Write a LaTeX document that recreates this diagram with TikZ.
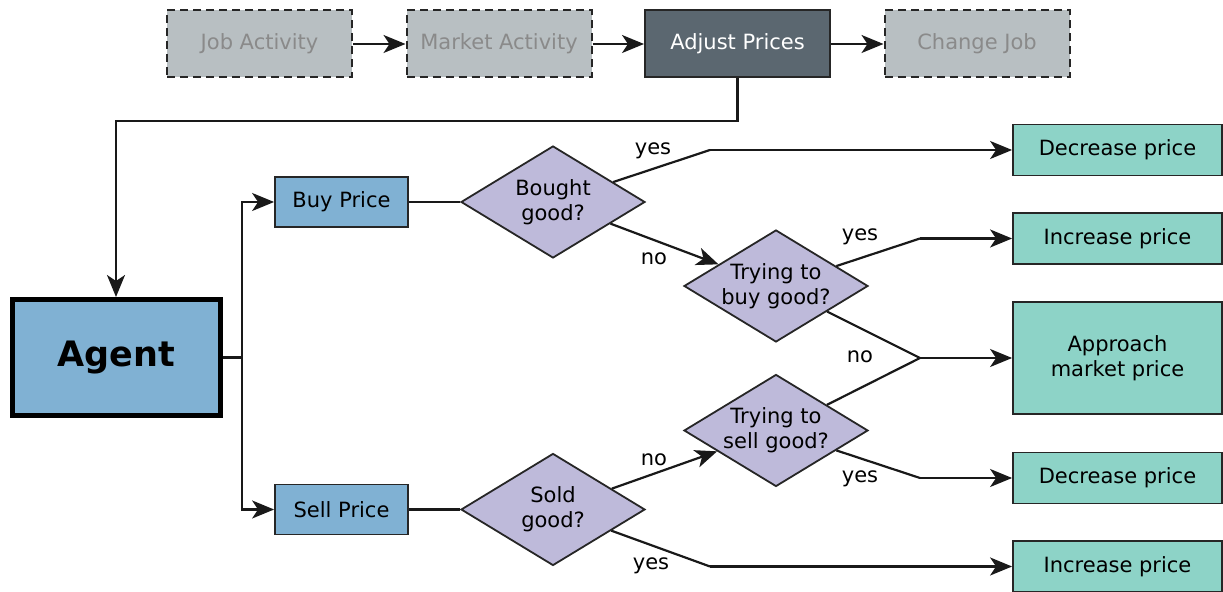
\documentclass[tikz,border=0pt]{standalone}
\usepackage{fontspec}
\setmainfont{DejaVu Sans}
\usetikzlibrary{shapes.geometric,arrows.meta}
\definecolor{grayfill}{HTML}{B8BFC2}
\definecolor{graytext}{HTML}{8A8A8A}
\definecolor{darkfill}{HTML}{5B6770}
\definecolor{bluefill}{HTML}{80B1D3}
\definecolor{lavfill}{HTML}{BEBADA}
\definecolor{tealfill}{HTML}{8DD3C7}
\tikzset{
  every node/.style={font=\fontsize{10.5}{12.5}\selectfont, align=center},
  topbox/.style={draw=black!85, dash pattern=on 4pt off 2.5pt, line width=1pt, fill=grayfill, text=graytext, minimum width=92.5pt, minimum height=33.5pt, inner sep=0pt},
  darkbox/.style={draw=black!85, line width=1pt, fill=darkfill, text=white, minimum width=92.5pt, minimum height=33.5pt, inner sep=0pt},
  agentbox/.style={draw=black, line width=2.5pt, fill=bluefill, minimum width=104pt, minimum height=58pt, font=\fontsize{17.5}{20}\selectfont\bfseries},
  pricebox/.style={draw=black!85, line width=0.9pt, fill=bluefill, minimum width=66.5pt, minimum height=25pt, inner sep=0pt},
  decision/.style={diamond, draw=black!85, line width=0.9pt, fill=lavfill, minimum width=92pt, minimum height=56pt, inner sep=0pt, aspect=1.64},
  result/.style={draw=black!85, line width=0.9pt, fill=tealfill, minimum width=104.5pt, minimum height=25.5pt, inner sep=0pt},
  conn/.style={line width=1.1pt, black!90},
  arr/.style={conn, -{Stealth[length=11pt, width=9pt, inset=3pt]}},
  lbl/.style={inner sep=0pt},
}
\begin{document}
\begin{tikzpicture}[x=0.5pt, y=-0.5pt]
\useasboundingbox (0,0) rectangle (1223,592);
% top row
\node[topbox] (job) at (259.5,44) {Job Activity};
\node[topbox] (market) at (499,44) {Market Activity};
\node[darkbox] (adjust) at (737.5,44) {Adjust Prices};
\node[topbox] (change) at (977,44) {Change Job};
\draw[arr] (job) -- (market);
\draw[arr] (market) -- (adjust);
\draw[arr] (adjust) -- (change);
% agent
\node[agentbox] (agent) at (116,357.5) {Agent};
\coordinate (turn) at (400,121);
\draw[arr] (adjust.south) |- (turn) -| (agent.north);
% price boxes
\node[pricebox] (buy) at (341.5,202) {Buy Price};
\node[pricebox] (sell) at (341.5,509.5) {Sell Price};
\coordinate (aj) at (242,357.5);
\draw[conn] (agent.east) -- (aj);
\draw[arr] (aj) |- (buy.west);
\draw[arr] (aj) |- (sell.west);
% decisions
\node[decision] (bought) at (553,202) {Bought\\good?};
\node[decision] (trybuy) at (776,286) {Trying to\\buy good?};
\node[decision] (trysell) at (776,430.5) {Trying to\\sell good?};
\node[decision] (sold) at (553,509.5) {Sold\\good?};
\draw[conn] (buy.east) -- (bought.west);
\draw[conn] (sell.east) -- (sold.west);
% results
\node[result] (dec1) at (1117.5,150) {Decrease price};
\node[result] (inc1) at (1117.5,238.5) {Increase price};
\node[result, minimum height=56pt] (approach) at (1117.5,358) {Approach\\market price};
\node[result] (dec2) at (1117.5,478) {Decrease price};
\node[result] (inc2) at (1117.5,566.5) {Increase price};
% junctions
\coordinate (j1) at (710,150);
\coordinate (j2) at (920,238.5);
\coordinate (j3) at (920,358);
\coordinate (j4) at (920,478);
\coordinate (j5) at (710,566.5);
\draw[conn] (bought) -- (j1);
\draw[arr] (j1) -- (dec1.west);
\draw[arr] (bought) -- (trybuy);
\draw[conn] (trybuy) -- (j2);
\draw[arr] (j2) -- (inc1.west);
\draw[conn] (trybuy) -- (j3);
\draw[conn] (trysell) -- (j3);
\draw[arr] (j3) -- (approach.west);
\draw[conn] (trysell) -- (j4);
\draw[arr] (j4) -- (dec2.west);
\draw[arr] (sold) -- (trysell);
\draw[conn] (sold) -- (j5);
\draw[arr] (j5) -- (inc2.west);
% labels
\node[lbl] (l1) at (653,151) {yes};
\node[lbl] (l2) at (654,259) {no};
\node[lbl] (l3) at (860,237) {yes};
\node[lbl] (l4) at (860,357) {no};
\node[lbl] (l5) at (860,479) {yes};
\node[lbl] (l6) at (654,460) {no};
\node[lbl] (l7) at (651,566) {yes};
\end{tikzpicture}
\end{document}
